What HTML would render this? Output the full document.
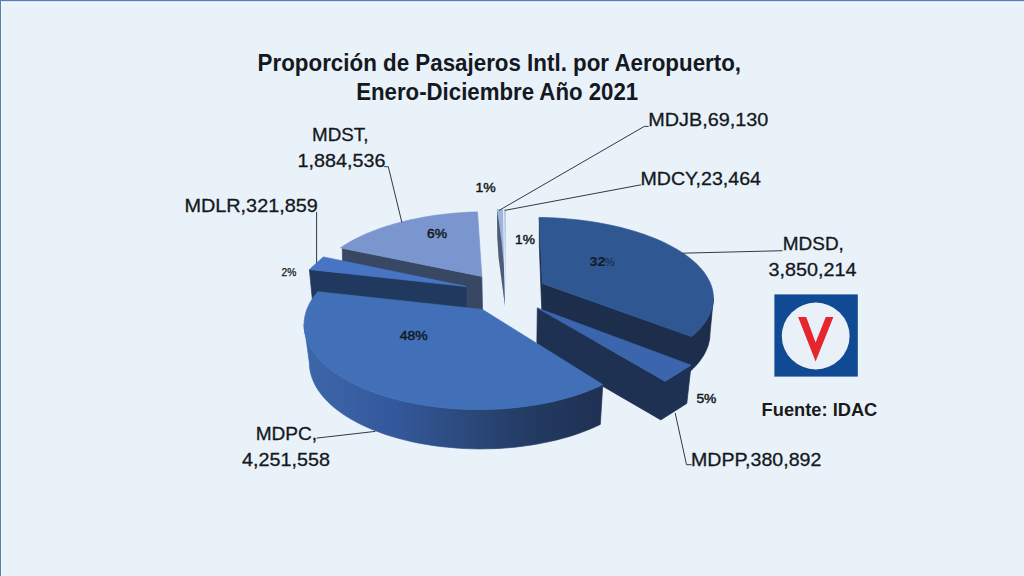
<!DOCTYPE html>
<html><head><meta charset="utf-8"><style>
html,body{margin:0;padding:0;}
body{width:1024px;height:576px;overflow:hidden;background:#e9f1f9;}
svg{display:block;}
</style></head><body>
<svg width="1024" height="576" viewBox="0 0 1024 576" font-family="'Liberation Sans', sans-serif">
<defs>
<linearGradient id="gpc" x1="303" y1="0" x2="603" y2="0" gradientUnits="userSpaceOnUse">
<stop offset="0" stop-color="#3d67aa"/><stop offset="0.323" stop-color="#33579a"/><stop offset="0.523" stop-color="#2c4a7d"/><stop offset="0.79" stop-color="#22395f"/><stop offset="1" stop-color="#1f3154"/>
</linearGradient>
</defs>
<rect x="0" y="0" width="1024" height="576" fill="#e9f1f9"/>
<rect x="0" y="0" width="1024" height="1" fill="#5882ab"/>
<rect x="0" y="1" width="1024" height="1" fill="#d2e1f1"/>
<rect x="0" y="2" width="1024" height="1" fill="#f1f7fd"/>
<rect x="0" y="0" width="1" height="576" fill="#5882ab"/>
<rect x="1" y="1" width="1" height="575" fill="#eef5fc"/>
<polygon points="342.3,248.4 481.8,276.4 482.7,318.0 343.0,290.0" fill="#384864" stroke="#384864" stroke-width="0.7" stroke-linejoin="round" />
<polygon points="481.8,276.4 340.4,247.8 342.4,246.5 344.4,245.2 346.4,244.0 348.5,242.7 350.6,241.5 352.8,240.3 355.1,239.1 357.4,238.0 359.7,236.8 362.1,235.7 364.5,234.6 367.0,233.5 369.5,232.5 372.1,231.4 374.7,230.4 377.3,229.4 380.0,228.5 382.7,227.5 385.5,226.6 388.3,225.7 391.1,224.9 394.0,224.0 396.9,223.2 399.9,222.4 402.8,221.7 405.8,220.9 408.9,220.2 411.9,219.5 415.0,218.9 418.2,218.3 421.3,217.7 424.5,217.1 427.7,216.5 430.9,216.0 434.1,215.5 437.4,215.1 440.6,214.7 443.9,214.3 447.2,213.9 450.5,213.6 453.9,213.2 457.2,213.0 460.6,212.7 463.9,212.5 467.3,212.3 470.7,212.1 474.1,212.0 477.5,211.9" fill="#7b96ce" stroke="#7b96ce" stroke-width="0.7" stroke-linejoin="round" />
<polygon points="497.0,209.2 503.0,209.2 504.8,306.0 497.3,235.0" fill="#9fb4dc" />
<polygon points="497.0,211.0 499.0,222.0 501.8,243.0 503.8,265.0 505.0,306.0 501.5,280.0 498.6,258.0 497.3,238.0" fill="#4d5c7a" />
<polygon points="504.0,209.5 506.1,209.5 505.3,292.0" fill="#b9c9e7" />
<polygon points="539.3,217.7 542.4,283.6 542.4,323.6 541.2,295.0 539.3,246.0" fill="#1d2d4c" stroke="#1d2d4c" stroke-width="0.7" stroke-linejoin="round" />
<polygon points="542.4,283.6 691.4,336.6 694.0,334.4 696.5,332.1 698.8,329.8 700.9,327.5 702.9,325.2 704.7,322.8 706.3,320.4 707.8,317.9 709.1,315.5 710.3,313.0 711.2,310.5 712.0,308.0 712.6,305.5 713.0,303.0 713.3,300.5 713.4,298.0 710.0,333.5 709.9,336.1 709.7,338.6 709.2,341.1 708.6,343.7 707.9,346.2 706.9,348.7 705.8,351.2 704.6,353.7 703.1,356.2 701.5,358.6 699.8,361.0 697.9,363.4 695.8,365.8 693.6,368.1 691.2,370.4 688.6,372.7 542.4,323.6" fill="#1d2d4c" stroke="#1d2d4c" stroke-width="0.7" stroke-linejoin="round" />
<polygon points="542.4,283.6 539.3,217.4 545.0,217.6 550.7,217.8 556.4,218.0 562.1,218.4 567.7,218.9 573.3,219.4 578.9,220.0 584.4,220.7 589.9,221.4 595.3,222.3 600.6,223.2 605.9,224.2 611.1,225.3 616.3,226.4 621.3,227.6 626.2,228.9 631.1,230.3 635.9,231.7 640.5,233.2 645.1,234.7 649.5,236.4 653.8,238.0 658.0,239.8 662.1,241.6 666.0,243.5 669.8,245.4 673.5,247.4 677.0,249.4 680.4,251.4 683.6,253.6 686.7,255.7 689.6,257.9 692.4,260.2 695.0,262.5 697.5,264.8 699.7,267.2 701.8,269.5 703.8,272.0 705.5,274.4 707.1,276.9 708.5,279.4 709.8,281.9 710.8,284.4 711.7,286.9 712.4,289.5 712.9,292.0 713.2,294.6 713.4,297.2 713.4,299.8 713.1,302.3 712.7,304.9 712.2,307.4 711.4,310.0 710.5,312.5 709.3,315.0 708.0,317.5 706.6,320.0 704.9,322.5 703.1,324.9 701.1,327.3 698.9,329.7 696.6,332.0 694.1,334.4 691.4,336.6" fill="#2f5893" stroke="#2f5893" stroke-width="0.7" stroke-linejoin="round" />
<polygon points="309.4,269.5 466.2,286.5 466.2,326.5 313.3,309.4" fill="#22395f" stroke="#22395f" stroke-width="0.7" stroke-linejoin="round" />
<polygon points="323.3,256.9 466.2,286.5 309.4,269.5" fill="#4775c4" stroke="#4775c4" stroke-width="0.7" stroke-linejoin="round" />
<polygon points="537.3,308.0 665.1,381.3 691.1,365.2 686.8,403.4 660.8,419.9 536.8,348.0" fill="#1f3153" stroke="#1f3153" stroke-width="0.7" stroke-linejoin="round" />
<polygon points="537.3,308.0 691.1,365.2 665.1,381.3" fill="#3b66ad" stroke="#3b66ad" stroke-width="0.7" stroke-linejoin="round" />
<polygon points="304.1,324.6 304.2,328.0 304.6,331.3 305.3,334.6 306.2,337.9 307.4,341.2 308.9,344.5 310.6,347.7 312.6,350.9 314.9,354.0 317.4,357.1 320.1,360.2 323.1,363.2 326.4,366.1 329.9,369.0 333.6,371.8 337.5,374.5 341.6,377.2 346.0,379.8 350.6,382.2 355.3,384.6 360.3,387.0 365.4,389.2 370.7,391.3 376.2,393.3 381.9,395.2 387.6,397.0 393.6,398.7 399.6,400.3 405.8,401.7 412.1,403.0 418.5,404.3 425.0,405.3 431.6,406.3 438.2,407.2 444.9,407.9 451.7,408.4 458.5,408.9 465.4,409.2 472.2,409.4 479.1,409.5 486.0,409.4 492.8,409.2 499.7,408.9 506.5,408.4 513.2,407.9 519.9,407.1 526.6,406.3 533.2,405.3 539.7,404.2 546.1,403.0 552.4,401.7 558.5,400.2 564.6,398.7 570.5,397.0 576.3,395.2 581.9,393.3 587.4,391.3 592.7,389.1 597.9,386.9 602.8,384.6 600.3,424.4 595.4,426.7 590.3,428.9 585.1,431.0 579.8,433.0 574.2,434.9 568.6,436.7 562.8,438.3 556.8,439.9 550.8,441.3 544.6,442.6 538.4,443.8 532.0,444.9 525.6,445.8 519.1,446.7 512.6,447.4 506.0,447.9 499.3,448.4 492.7,448.7 486.0,448.8 479.3,448.9 472.6,448.8 466.0,448.6 459.3,448.2 452.7,447.7 446.1,447.1 439.6,446.4 433.1,445.5 426.7,444.5 420.4,443.4 414.2,442.2 408.1,440.8 402.1,439.3 396.2,437.7 390.4,436.0 384.8,434.2 379.4,432.2 374.0,430.2 368.9,428.1 363.9,425.8 359.1,423.5 354.5,421.1 350.0,418.5 345.8,415.9 341.8,413.3 338.0,410.5 334.4,407.7 331.0,404.8 327.9,401.8 325.0,398.8 322.3,395.7 319.9,392.6 317.7,389.4 315.8,386.2 314.1,382.9 312.7,379.6 311.5,376.3 310.6,373.0 309.9,369.7 309.5,366.3 309.4,362.9" fill="url(#gpc)" stroke="url(#gpc)" stroke-width="0.7"/>
<polygon points="482.5,309.5 317.8,291.7 315.6,294.4 313.5,297.1 311.7,299.9 310.0,302.7 308.5,305.6 307.3,308.4 306.2,311.3 305.4,314.2 304.8,317.1 304.3,320.0 304.1,322.9 304.1,325.9 304.3,328.8 304.7,331.7 305.3,334.6 306.1,337.5 307.1,340.4 308.3,343.2 309.7,346.1 311.4,348.9 313.2,351.7 315.2,354.4 317.4,357.2 319.8,359.8 322.4,362.5 325.2,365.1 328.1,367.6 331.3,370.1 334.6,372.5 338.1,374.9 341.7,377.2 345.6,379.5 349.5,381.7 353.7,383.8 357.9,385.9 362.4,387.9 366.9,389.8 371.6,391.6 376.4,393.4 381.4,395.0 386.4,396.6 391.6,398.1 396.9,399.6 402.3,400.9 407.7,402.1 413.3,403.3 418.9,404.3 424.6,405.3 430.3,406.1 436.2,406.9 442.0,407.6 447.9,408.1 453.9,408.6 459.9,409.0 465.9,409.2 471.9,409.4 477.9,409.5 483.9,409.5 490.0,409.3 496.0,409.1 502.0,408.8 507.9,408.3 513.8,407.8 519.7,407.2 525.6,406.4 531.3,405.6 537.1,404.7 542.7,403.7 548.3,402.6 553.8,401.4 559.2,400.1 564.5,398.7 569.7,397.2 574.8,395.7 579.8,394.0 584.7,392.3 589.4,390.5 594.0,388.6 598.5,386.6 602.8,384.6" fill="#4170b8" stroke="#4170b8" stroke-width="0.7" stroke-linejoin="round" />

<g fill="none" stroke="#303946" stroke-width="1">
<polyline points="384.2,166.7 388.3,166.7 401.9,222.5"/>
<polyline points="316.6,211.9 316.6,263.1"/>
<polyline points="648.6,126.4 644.3,126.4 499.1,210.4"/>
<polyline points="641,185 640,185 504.7,210.4"/>
<polyline points="782.5,250.7 682.5,253.2"/>
<polyline points="316.7,438.1 375.3,431.4"/>
<polyline points="691.7,464.7 686.5,464.7 675.2,413"/>
</g>
<text x="257.6" y="70.5" font-size="23.6" font-weight="bold" fill="#141820" text-anchor="start" textLength="483.5" lengthAdjust="spacingAndGlyphs" >Proporción de Pasajeros Intl. por Aeropuerto,</text>
<text x="356.2" y="100.4" font-size="23.6" font-weight="bold" fill="#141820" text-anchor="start" textLength="282" lengthAdjust="spacingAndGlyphs" >Enero-Diciembre Año 2021</text>
<text x="312.1" y="140.8" font-size="19" font-weight="normal" fill="#141820" text-anchor="start" textLength="56.4" lengthAdjust="spacingAndGlyphs" stroke="#141820" stroke-width="0.3" >MDST,</text>
<text x="297.6" y="166.7" font-size="19" font-weight="normal" fill="#141820" text-anchor="start" textLength="87.8" lengthAdjust="spacingAndGlyphs" stroke="#141820" stroke-width="0.3" >1,884,536</text>
<text x="184.4" y="211.9" font-size="19" font-weight="normal" fill="#141820" text-anchor="start" textLength="133.4" lengthAdjust="spacingAndGlyphs" stroke="#141820" stroke-width="0.3" >MDLR,321,859</text>
<text x="648.3" y="126" font-size="19" font-weight="normal" fill="#141820" text-anchor="start" textLength="120.1" lengthAdjust="spacingAndGlyphs" stroke="#141820" stroke-width="0.3" >MDJB,69,130</text>
<text x="640.5" y="184.5" font-size="19" font-weight="normal" fill="#141820" text-anchor="start" textLength="120.4" lengthAdjust="spacingAndGlyphs" stroke="#141820" stroke-width="0.3" >MDCY,23,464</text>
<text x="782.8" y="250" font-size="19" font-weight="normal" fill="#141820" text-anchor="start" textLength="61.1" lengthAdjust="spacingAndGlyphs" stroke="#141820" stroke-width="0.3" >MDSD,</text>
<text x="768.5" y="276.3" font-size="19" font-weight="normal" fill="#141820" text-anchor="start" textLength="87.9" lengthAdjust="spacingAndGlyphs" stroke="#141820" stroke-width="0.3" >3,850,214</text>
<text x="255.7" y="439.7" font-size="19" font-weight="normal" fill="#141820" text-anchor="start" textLength="61.4" lengthAdjust="spacingAndGlyphs" stroke="#141820" stroke-width="0.3" >MDPC,</text>
<text x="242.1" y="465.8" font-size="19" font-weight="normal" fill="#141820" text-anchor="start" textLength="87.8" lengthAdjust="spacingAndGlyphs" stroke="#141820" stroke-width="0.3" >4,251,558</text>
<text x="691.0" y="465.9" font-size="19" font-weight="normal" fill="#141820" text-anchor="start" textLength="130.4" lengthAdjust="spacingAndGlyphs" stroke="#141820" stroke-width="0.3" >MDPP,380,892</text>
<text x="427.1" y="237.6" font-size="13" font-weight="normal" fill="#141820" text-anchor="start" textLength="20.0" lengthAdjust="spacingAndGlyphs" stroke="#141820" stroke-width="0.45" >6%</text>
<text x="399.7" y="339.6" font-size="13" font-weight="normal" fill="#141820" text-anchor="start" textLength="28.0" lengthAdjust="spacingAndGlyphs" stroke="#141820" stroke-width="0.45" >48%</text>
<text x="589.5" y="266.2" font-size="12.8" font-weight="bold" fill="#141820" text-anchor="start" textLength="16.0" lengthAdjust="spacingAndGlyphs" >32</text>
<text x="604.7" y="266.4" font-size="11" font-weight="normal" fill="#18243d" text-anchor="start" textLength="10.0" lengthAdjust="spacingAndGlyphs" >%</text>
<text x="475.6" y="192.3" font-size="13" font-weight="normal" fill="#141820" text-anchor="start" textLength="20.2" lengthAdjust="spacingAndGlyphs" stroke="#141820" stroke-width="0.45" >1%</text>
<text x="515.1" y="243.6" font-size="13" font-weight="normal" fill="#141820" text-anchor="start" textLength="19.8" lengthAdjust="spacingAndGlyphs" stroke="#141820" stroke-width="0.45" >1%</text>
<text x="281.5" y="276" font-size="10.5" font-weight="normal" fill="#141820" text-anchor="start" textLength="14.8" lengthAdjust="spacingAndGlyphs" stroke="#141820" stroke-width="0.25" >2%</text>
<text x="696.4" y="403.2" font-size="13" font-weight="normal" fill="#141820" text-anchor="start" textLength="20.0" lengthAdjust="spacingAndGlyphs" stroke="#141820" stroke-width="0.45" >5%</text>
<text x="761.6" y="416" font-size="17.5" font-weight="bold" fill="#1a1a1a" text-anchor="start" textLength="115.7" lengthAdjust="spacingAndGlyphs" >Fuente: IDAC</text>

<rect x="774.4" y="294.4" width="83.4" height="82.2" fill="#104a94"/>
<ellipse cx="815.7" cy="336" rx="33.9" ry="33.4" fill="#e9f0f8"/>
<polygon points="798.1,316.9 806.2,316.9 815.6,342.4 825.8,316.9 833.4,316.9 815.6,361.4" fill="#e6262e"/>

</svg>
</body></html>
